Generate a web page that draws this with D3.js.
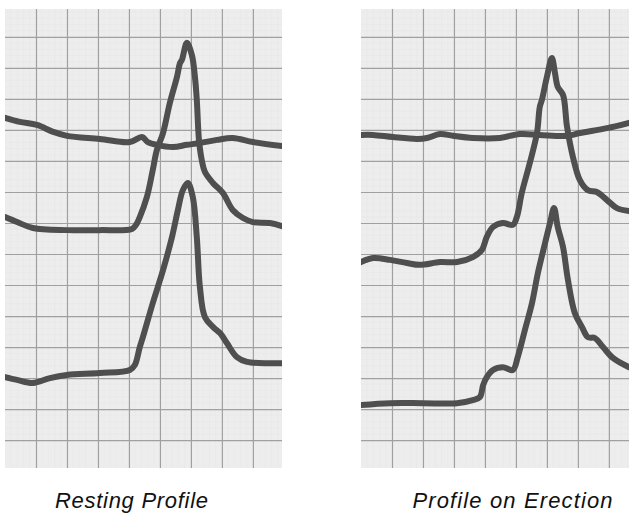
<!DOCTYPE html>
<html>
<head>
<meta charset="utf-8">
<script src="https://cdn.jsdelivr.net/npm/d3@7"></script>
<style>
  html, body { margin: 0; padding: 0; background: #ffffff; }
  svg { display: block; }
</style>
</head>
<body>
<svg id="chart" width="629" height="513"></svg>
<script>
// Pressure traces on recorder paper; x = chart-paper divisions along the pull,
// y = chart-paper divisions of pen deflection.

const panelTitles = ["Resting Profile", "Profile on Erection"];

// Resting profile, three pen traces
const restTopX = [0, 0.48, 1.03, 1.55, 2.0, 3.06, 4.03, 4.42, 4.61, 4.9, 5.42, 5.87, 6.29, 6.84, 7.35, 8.0, 8.94];
const restTopY = [10.39, 10.26, 10.16, 9.94, 9.81, 9.71, 9.61, 9.77, 9.61, 9.52, 9.45, 9.52, 9.58, 9.68, 9.74, 9.61, 9.48];

const restMidX = [0, 0.39, 0.9, 2.0, 3.06, 4.1, 4.23, 4.35, 4.58, 4.77, 4.9, 5.1, 5.32, 5.55, 5.65, 5.71, 5.87, 6.03, 6.13, 6.19, 6.26, 6.35, 6.45, 6.71, 7.03, 7.35, 7.68, 8.0, 8.55, 8.94];
const restMidY = [7.19, 7.03, 6.84, 6.77, 6.77, 6.81, 6.94, 7.19, 7.84, 8.71, 9.35, 9.9, 10.87, 11.71, 12.16, 12.26, 12.81, 12.42, 11.71, 10.97, 9.68, 9.03, 8.65, 8.29, 7.97, 7.42, 7.16, 7.03, 7.0, 6.9];

const restLowX = [0, 0.39, 0.9, 1.45, 2.0, 3.06, 4.03, 4.19, 4.35, 4.45, 4.77, 5.1, 5.39, 5.58, 5.74, 5.9, 6.06, 6.19, 6.29, 6.45, 6.71, 6.94, 7.16, 7.48, 7.81, 8.55, 8.94];
const restLowY = [2.03, 1.94, 1.84, 2.0, 2.1, 2.16, 2.26, 2.42, 3.0, 3.32, 4.42, 5.48, 6.55, 7.42, 8.06, 8.29, 7.84, 6.55, 4.94, 3.97, 3.65, 3.45, 3.13, 2.68, 2.52, 2.48, 2.48];

// Profile on erection, three pen traces
const erecTopX = [0, 0.39, 1.03, 1.81, 2.13, 2.55, 2.97, 3.61, 4.48, 5.13, 5.77, 6.65, 7.06, 7.94, 8.65];
const erecTopY = [9.84, 9.84, 9.77, 9.71, 9.74, 9.87, 9.81, 9.74, 9.74, 9.87, 9.84, 9.81, 9.9, 10.06, 10.23];

const erecMidX = [0, 0.39, 0.94, 1.48, 1.9, 2.55, 3.1, 3.61, 3.9, 4.06, 4.26, 4.58, 4.9, 5.03, 5.19, 5.45, 5.68, 5.77, 5.84, 6.0, 6.16, 6.26, 6.35, 6.52, 6.65, 6.84, 7.06, 7.32, 7.61, 7.94, 8.26, 8.65];
const erecMidY = [5.74, 5.87, 5.81, 5.71, 5.65, 5.74, 5.74, 5.9, 6.13, 6.55, 6.87, 7.0, 6.94, 7.19, 7.97, 8.94, 9.9, 10.74, 10.97, 11.71, 12.32, 11.84, 11.39, 11.13, 10.1, 9.13, 8.39, 8.06, 8.0, 7.74, 7.48, 7.39];

const erecLowX = [0, 0.94, 2.0, 3.1, 3.61, 3.84, 3.94, 4.06, 4.26, 4.58, 4.9, 5.06, 5.29, 5.52, 5.71, 5.94, 6.1, 6.23, 6.35, 6.52, 6.68, 6.9, 7.13, 7.32, 7.55, 7.81, 8.13, 8.65];
const erecLowY = [1.13, 1.19, 1.19, 1.19, 1.29, 1.39, 1.77, 2.03, 2.26, 2.35, 2.26, 2.68, 3.55, 4.42, 5.39, 6.35, 7.0, 7.48, 6.87, 6.23, 5.16, 4.1, 3.65, 3.32, 3.29, 3.0, 2.65, 2.35];

// Paper extent in divisions
const paperWidthDiv = [8.94, 8.65];
const paperYDomain = [-0.9, 13.9];

const zip = (xs, ys) => xs.map((x, i) => ({ x, y: ys[i] }));

const panels = [
  { title: panelTitles[0], left: 5,   right: 282, widthDiv: paperWidthDiv[0],
    traces: [zip(restTopX, restTopY), zip(restMidX, restMidY), zip(restLowX, restLowY)],
    titleX: 131.5, titleLen: 153 },
  { title: panelTitles[1], left: 361, right: 629, widthDiv: paperWidthDiv[1],
    traces: [zip(erecTopX, erecTopY), zip(erecMidX, erecMidY), zip(erecLowX, erecLowY)],
    titleX: 512.5, titleLen: 200 }
];

const svg = d3.select("#chart");
const paperTop = 9, paperBottom = 468;

panels.forEach((p, pi) => {
  const x = d3.scaleLinear().domain([0, p.widthDiv]).range([p.left, p.right]);
  const y = d3.scaleLinear().domain(paperYDomain).range([paperBottom, paperTop]);

  const g = svg.append("g");
  const clipId = "paper" + pi;
  g.append("clipPath").attr("id", clipId)
    .append("rect").attr("x", p.left).attr("y", paperTop)
    .attr("width", p.right - p.left).attr("height", paperBottom - paperTop);

  g.append("rect")
    .attr("x", p.left).attr("y", paperTop)
    .attr("width", p.right - p.left).attr("height", paperBottom - paperTop)
    .attr("fill", "#ededed");

  const paper = g.append("g").attr("clip-path", `url(#${clipId})`);

  // faint minor rulings (fifths of a division)
  const minorX = d3.range(0, p.widthDiv, 0.2).filter(v => Math.abs(v - Math.round(v)) > 0.05);
  const minorY = d3.range(Math.ceil(paperYDomain[0]), paperYDomain[1], 0.2).filter(v => Math.abs(v - Math.round(v)) > 0.05);
  paper.append("g").selectAll("line").data(minorX).join("line")
    .attr("x1", d => x(d)).attr("x2", d => x(d))
    .attr("y1", paperTop).attr("y2", paperBottom)
    .attr("stroke", "#e6e6e6").attr("stroke-width", 0.5);
  paper.append("g").selectAll("line").data(minorY).join("line")
    .attr("x1", p.left).attr("x2", p.right)
    .attr("y1", d => y(d)).attr("y2", d => y(d))
    .attr("stroke", "#e6e6e6").attr("stroke-width", 0.5);

  // major rulings, drawn with d3 axes as gridlines
  const xTicks = d3.range(1, Math.floor(p.widthDiv) + 1);
  const yTicks = d3.range(0, 14);
  paper.append("g")
    .attr("transform", `translate(0,${paperTop})`)
    .call(d3.axisBottom(x).tickValues(xTicks).tickSize(paperBottom - paperTop).tickFormat(""))
    .call(a => a.select(".domain").remove())
    .call(a => a.selectAll(".tick line").attr("stroke", "#a0a0a0").attr("stroke-width", 1.2));
  paper.append("g")
    .attr("transform", `translate(${p.left},0)`)
    .call(d3.axisRight(y).tickValues(yTicks).tickSize(p.right - p.left).tickFormat(""))
    .call(a => a.select(".domain").remove())
    .call(a => a.selectAll(".tick line").attr("stroke", "#a0a0a0").attr("stroke-width", 1.2));

  const line = d3.line().x(d => x(d.x)).y(d => y(d.y)).curve(d3.curveCatmullRom.alpha(0.5));
  paper.append("g").selectAll("path").data(p.traces).join("path")
    .attr("d", line)
    .attr("fill", "none")
    .attr("stroke", "#4f4f4f")
    .attr("stroke-width", 6)
    .attr("stroke-linejoin", "round")
    .attr("stroke-linecap", "round");

  svg.append("text")
    .attr("x", p.titleX - p.titleLen / 2)
    .attr("y", 508)
    .attr("textLength", p.titleLen)
    .attr("lengthAdjust", "spacing")
    .attr("font-family", "'Liberation Sans', Arial, sans-serif")
    .attr("font-style", "italic")
    .attr("font-size", 22)
    .attr("fill", "#111")
    .text(p.title);
});
</script>
</body>
</html>
